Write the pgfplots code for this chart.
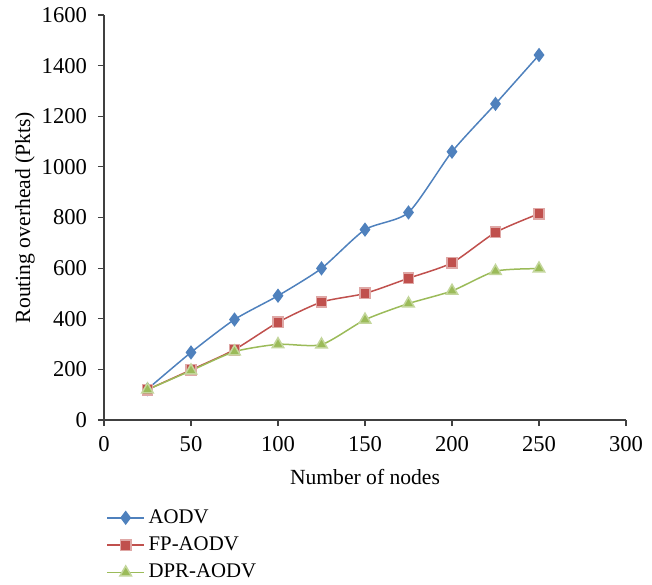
\documentclass[border=0pt]{standalone}
\usepackage{fontspec}
\setmainfont{Liberation Serif}
\usepackage{pgfplots}
\pgfplotsset{compat=1.18}
\definecolor{cblue}{HTML}{4F81BD}
\definecolor{cred}{HTML}{C0504D}
\definecolor{cgreen}{HTML}{9BBB59}
\begin{document}
\begin{tikzpicture}
\begin{axis}[
  at={(0,0)}, anchor=south west,
  scale only axis, width=261pt, height=202.5pt,
  xmin=0, xmax=300, ymin=0, ymax=1600,
  xtick={0,50,...,300}, ytick={0,200,...,1600},
  axis lines=left, axis line style={-, black!75, line width=0.6pt},
  tick align=outside, major tick length=3pt,
  tick style={black!75, line width=0.6pt},
  /pgf/number format/assume math mode=true,
  /pgf/number format/1000 sep={},
  tick label style={font=\fontsize{11.3}{13}\selectfont},
  yticklabel style={xshift=-2pt},
  xticklabel style={yshift=-1.5pt},
  label style={font=\fontsize{10.8}{13}\selectfont},
  xlabel={Number of nodes},
  ylabel={Routing overhead (Pkts)},
  xlabel style={at={(axis description cs:0.5,0)}, anchor=center, yshift=-28.5pt},
  ylabel style={at={(axis description cs:-0.1513,0.5)}, anchor=center},
  legend style={at={(axis description cs:-0.007,-0.2)}, anchor=north west, draw=none,
    font=\fontsize{10.4}{12.5}\selectfont, row sep=1.3pt, cells={anchor=west}},
  legend cell align=left,
  legend image code/.code={\draw[mark repeat=2,mark phase=2] plot coordinates {(0cm,0cm)(0.32cm,0cm)(0.64cm,0cm)};},
  every axis plot/.append style={line width=0.75pt},
]
\addplot[color=cblue, smooth, tension=0.4, mark=diamond*, mark size=3pt, mark options={fill=cblue, draw=cblue}]
coordinates {(25,122)(50,267)(75,397)(100,491)(125,599)(150,752)(175,820)(200,1060)(225,1249)(250,1442)};
\addlegendentry{AODV}
\addplot[color=cred, smooth, tension=0.4, mark=square*, mark size=2.6pt, mark options={fill=cred, draw=cred!50!white}]
coordinates {(25,120)(50,198)(75,278)(100,386)(125,466)(150,500)(175,560)(200,621)(225,741)(250,815)};
\addlegendentry{FP-AODV}
\addplot[color=cgreen, smooth, tension=0.4, mark=triangle*, mark size=3.3pt, mark options={fill=cgreen, draw=cgreen!60!white}]
coordinates {(25,120)(50,195)(75,270)(100,299)(125,298)(150,396)(175,460)(200,510)(225,588)(250,598)};
\addlegendentry{DPR-AODV}
\end{axis}
\pgfresetboundingbox
\path[use as bounding box] (-52pt,-82pt) rectangle (274pt,210pt);
\end{tikzpicture}
\end{document}
